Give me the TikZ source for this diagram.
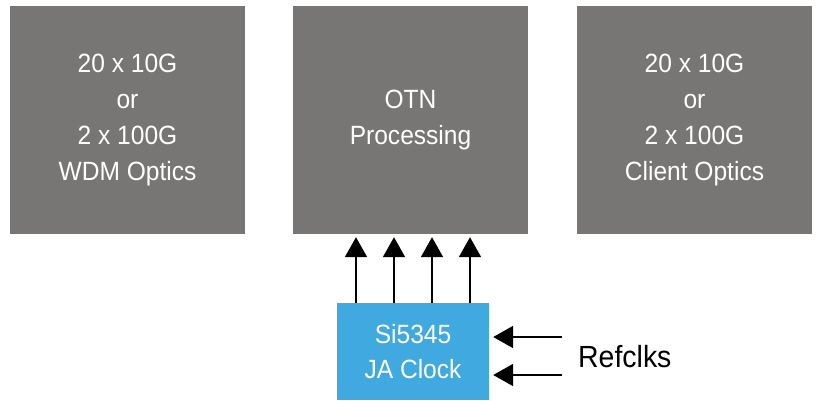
\documentclass[tikz,border=0pt]{standalone}
\usepackage{fontspec}
\setmainfont{Liberation Sans}[FakeStretch=0.93]
\usetikzlibrary{arrows.meta}
\definecolor{boxgray}{RGB}{120,117,117}
\definecolor{clkblue}{RGB}{63,169,224}
\newcommand\boxfont{\fontsize{26.5}{36}\selectfont}
\newcommand\reffont{\fontsize{30.7}{36}\selectfont}
\tikzset{
  block/.style={fill=boxgray,minimum width=235bp,minimum height=228bp,
    inner sep=0pt,text=white,align=center,font=\boxfont},
  clkbox/.style={fill=clkblue,minimum width=152bp,minimum height=97bp,
    inner sep=0pt,text=white,align=center,font=\boxfont},
  sig/.style={line width=2bp,-{Triangle[width=22bp,length=20bp]}}
}
\begin{document}
\begin{tikzpicture}[x=1bp,y=-1bp]
    \useasboundingbox (0,0) rectangle (818,400);
    %% the three blocks
    \node[block] (wdm) at (127.5,120) {20 x 10G\\or\\2 x 100G\\WDM Optics};
    \node[block] (otn) at (410.5,120) {OTN\\Processing};
    \node[block] (client) at (694.5,120) {20 x 10G\\or\\2 x 100G\\Client Optics};
    %% clock
    \node[clkbox] (clk) at (413,351.5) {Si5345\\JA Clock};
    %% clocks into OTN
    \foreach \x in {356,394,432,470}
        \draw[sig,shorten >=3bp] (clk.north -| \x,0) -- (otn.south -| \x,0);
    %% reference inputs
    \coordinate (ref1) at (562,337);
    \coordinate (ref2) at (562,375);
    \draw[sig,shorten >=4bp] (ref1) -- (clk.east |- ref1);
    \draw[sig,shorten >=4bp] (ref2) -- (clk.east |- ref2);
    \node[anchor=base west,inner sep=0pt,font=\reffont] (refclks) at (578,367) {Refclks};
\end{tikzpicture}
\end{document}
